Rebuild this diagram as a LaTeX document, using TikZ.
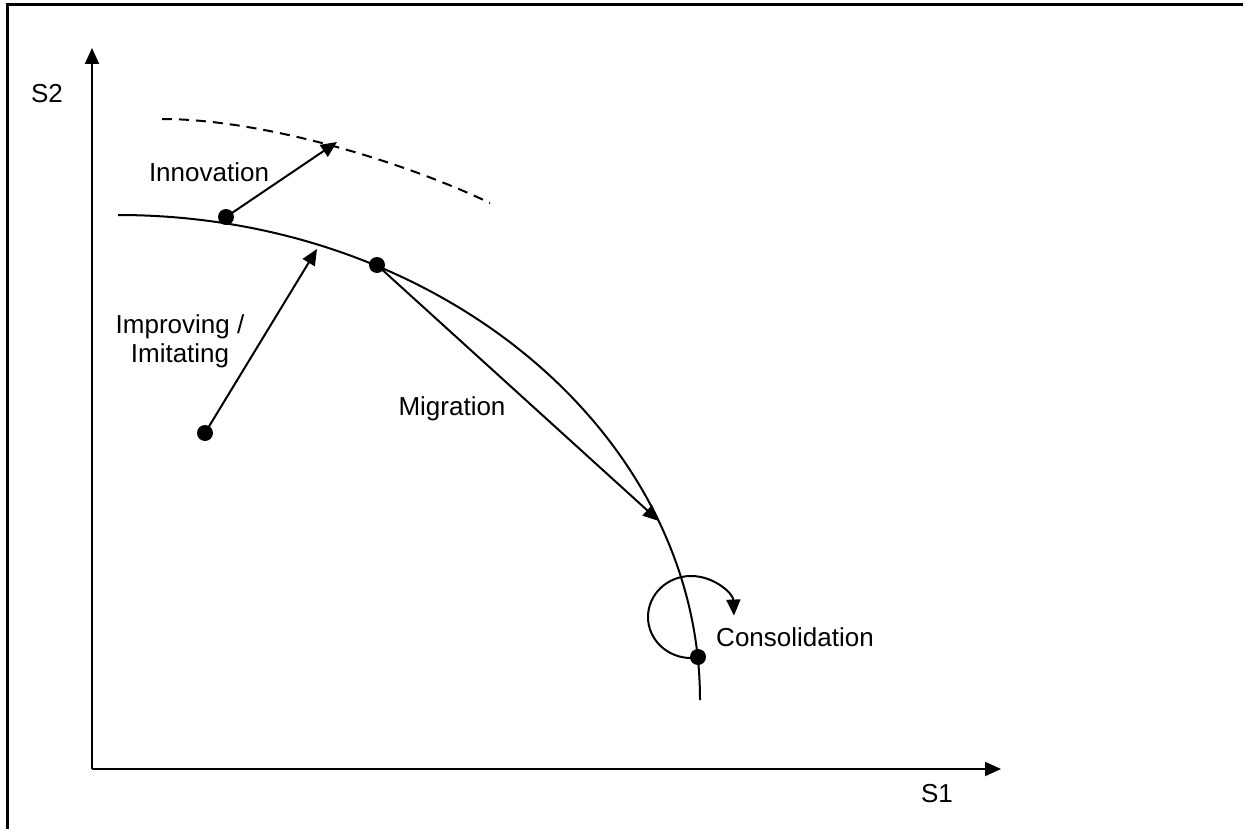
\documentclass[tikz,border=0pt]{standalone}
\usepackage{fontspec}
\setmainfont{Liberation Sans}
\usetikzlibrary{arrows.meta}
\begin{document}
\begin{tikzpicture}[x=0.5pt,y=-0.5pt,
  ln/.style={line width=1pt},
  arr/.style={ln,-{Triangle[length=8pt,width=7pt]}},
  dot/.style={circle,fill=black,inner sep=0pt,minimum size=8pt},
  lbl/.style={font=\fontsize{13}{14.5}\selectfont,inner sep=0pt}]
\useasboundingbox (0,0) rectangle (1243,829);
% frame
\draw[line width=1.5pt] (7,829) -- (7,5) -- (1243,5);
% axes
\coordinate (O) at (92,769);
\coordinate (Yend) at (92,48);
\coordinate (Xend) at (1001,769);
\draw[arr] (O) -- (Yend);
\draw[arr] (O) -- (Xend);
\node[lbl] (S2) at (47,94) {S2};
\node[lbl] (S1) at (937,794) {S1};
% frontier
\draw[ln] (118,215) .. controls (438,215) and (700,433) .. (700,700);
% dashed frontier
\draw[ln,dash pattern=on 5pt off 3.5pt] (162,119) .. controls (260,119) and (400,160) .. (490,203);
% dots
\node[dot] (dI) at (226,217) {};
\node[dot] (dM) at (377,265) {};
\node[dot] (dP) at (205,433) {};
\node[dot] (dC) at (698,657) {};
\coordinate (tI) at (337,142);
\coordinate (tP) at (317,249);
\coordinate (tM) at (659,521);
\draw[arr] (dI.center) -- (tI);
\draw[arr] (dP.center) -- (tP);
\draw[arr] (dM.center) -- (tM);
% consolidation loop
\coordinate (cS) at (691,658);
\draw[arr] (cS) arc[start angle=90,end angle=358,x radius=43,y radius=41];
% labels
\node[lbl] (lI) at (209,172) {Innovation};
\node[lbl,align=center] (lP) at (180,341) {Improving /\\Imitating};
\node[lbl] (lM) at (452,409) {Migration};
\node[lbl] (lC) at (795,637) {Consolidation};
\end{tikzpicture}
\end{document}
